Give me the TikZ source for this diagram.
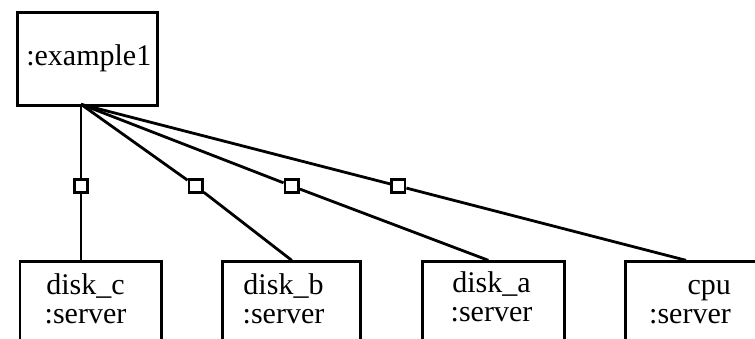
\documentclass[tikz,border=0pt]{standalone}
\usepackage{fontspec}
\setmainfont{Liberation Serif}
\begin{document}
\begin{tikzpicture}[x=1pt,y=-1pt,
  obj/.style={draw, line width=2.8pt, inner sep=0pt, anchor=north west},
  port/.style={draw, fill=white, line width=2.8pt, minimum size=13.5pt, inner sep=0pt},
  wire/.style={line width=2.8pt},
  lbl/.style={font=\fontsize{30}{29}\selectfont, inner sep=0pt, anchor=base}]
  \clip (0,0) rectangle (755,338);

  % top object
  \node[obj, minimum width=140.3pt, minimum height=93.3pt] (top) at (15.7,11) {};
  \node[lbl] (toptxt) at (88.8,65) {:example1};

  % server objects (bottoms run past the page edge)
  \node[obj, minimum width=141.5pt, minimum height=120pt] (boxc) at (18.5,260.3) {};
  \node[obj, minimum width=138.6pt, minimum height=120pt] (boxb) at (220.7,260.3) {};
  \node[obj, minimum width=141.7pt, minimum height=120pt] (boxa) at (421.3,260.3) {};
  \node[obj, minimum width=160pt, minimum height=120pt] (boxcpu) at (623.7,260.3) {};

  % labels, placed by the baseline of their last line
  \node[lbl, align=center] (txtc) at (85.5,323) {disk\_c\\:server};
  \node[lbl, align=center] (txtb) at (283.5,323) {disk\_b\\:server};
  \node[lbl, align=center] (txta) at (491.5,321.7) {disk\_a\\:server};
  \node[lbl, align=right] (txtcpu) at (690,323) {cpu\\:server};

  % link end points
  \coordinate (hub) at (81,104.3);
  \coordinate (inc) at (81,260.3);
  \coordinate (inb) at (291.7,260.3);
  \coordinate (ina) at (488.3,260.3);
  \coordinate (incpu) at (686,260.3);

  % ports on the links
  \node[port] (pc) at (81,186) {};
  \node[port] (pb) at (195.7,186) {};
  \node[port] (pa) at (291.7,186) {};
  \node[port] (pcpu) at (398.3,186) {};

  \draw[wire] (hub) -- (pc) -- (inc);
  \draw[wire] (hub) -- (pb) -- (inb);
  \draw[wire] (hub) -- (pa) -- (ina);
  \draw[wire] (hub) -- (pcpu) -- (incpu);
\end{tikzpicture}
\end{document}
